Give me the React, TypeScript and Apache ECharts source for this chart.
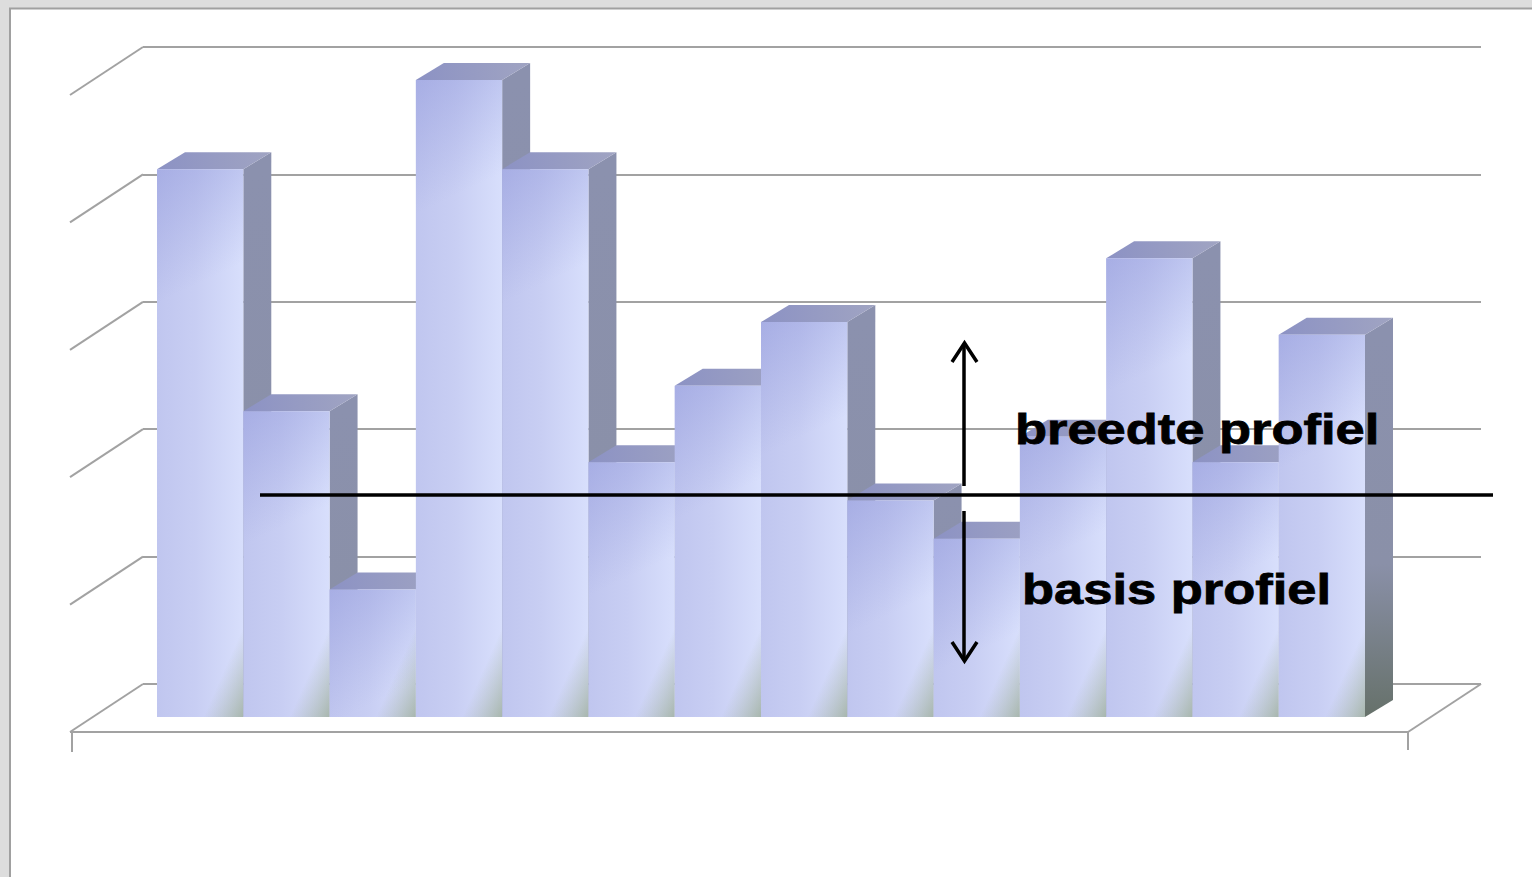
import React, { useEffect, useRef } from "react";
import * as echarts from "echarts";

// ---- data ----
const categories = ["1", "2", "3", "4", "5", "6", "7", "8", "9", "10", "11", "12", "13", "14"];
const values = [4.3, 2.4, 1.0, 5.0, 4.3, 2.0, 2.6, 3.1, 1.7, 1.4, 2.2, 3.6, 2.0, 3.0];
const wallTicks = [0, 1, 2, 3, 4, 5];
const labelTop = "breedte profiel";
const labelBottom = "basis profiel";

export default function App() {
  const ref = useRef<HTMLDivElement>(null);

  useEffect(() => {
    const chart = echarts.init(ref.current!, null, { renderer: "svg" });
    const DX = 28, DY = 17; // bar depth offset
    const WX = 73, WY = 48; // floor depth offset
    const gridColor = "#a2a2a2";

    const frameRender = (params: any, api: any) => {
      const v = api.value(1);
      const p = api.coord([0, v]);
      const children: any[] = [
        { type: "line", shape: { x1: p[0], y1: p[1], x2: p[0] - WX, y2: p[1] + WY }, style: { stroke: gridColor, lineWidth: 2 } },
      ];
      if (v === 0) {
        const q = api.coord([1, 0]);
        const fl = [p[0] - WX, p[1] + WY];
        const fr = [q[0] - WX, q[1] + WY];
        children.push(
          { type: "line", shape: { x1: fl[0], y1: fl[1], x2: fr[0], y2: fr[1] }, style: { stroke: gridColor, lineWidth: 2 } },
          { type: "line", shape: { x1: fr[0], y1: fr[1], x2: q[0], y2: q[1] }, style: { stroke: gridColor, lineWidth: 2 } },
          { type: "line", shape: { x1: fl[0] + 2, y1: fl[1], x2: fl[0] + 2, y2: fl[1] + 20 }, style: { stroke: gridColor, lineWidth: 2 } },
          { type: "line", shape: { x1: fr[0], y1: fr[1], x2: fr[0], y2: fr[1] + 18 }, style: { stroke: gridColor, lineWidth: 2 } }
        );
      }
      return { type: "group", children };
    };

    const barRender = (params: any, api: any) => {
      const i = api.value(0);
      const v = api.value(1);
      const b = api.coord([i, 0]);
      const t = api.coord([i, v]);
      const w = api.size([1, 0])[0];
      const x0 = b[0] - w / 2, x1 = b[0] + w / 2;
      const yb = b[1], yt = t[1];
      const sideGrad = new echarts.graphic.LinearGradient(0, yt, 0, yb, [
        { offset: 0, color: "#8b91ae" },
        { offset: 0.6, color: "#8a90a8" },
        { offset: 1, color: "#66716a" },
      ], true);
      const topGrad = new echarts.graphic.LinearGradient(0, 0, 1, 0, [
        { offset: 0, color: "#8c92c4" },
        { offset: 1, color: "#a0a4c2" },
      ]);
      const frontGrad = new echarts.graphic.LinearGradient(0, 0, 1, 0, [
        { offset: 0, color: "#c0c6ef" },
        { offset: 0.45, color: "#c8cef3" },
        { offset: 1, color: "#d8dffc" },
      ]);
      const shadeTL = new echarts.graphic.LinearGradient(x0, yt, x0 + w * 0.6, yt + 110, [
        { offset: 0, color: "rgba(130,138,212,0.4)" },
        { offset: 1, color: "rgba(130,138,212,0)" },
      ], true);
      // soft greenish reflection in the bottom-right corner of each front face
      const triW = 40, triH = 90;
      const len = Math.hypot(triW, triH);
      const proj = (triW * triW) / len;
      const px = x1 - triW + (triW / len) * proj;
      const py = yb - (triH / len) * proj;
      const shadeBR = new echarts.graphic.LinearGradient(px, py, x1, yb, [
        { offset: 0, color: "rgba(150,168,135,0)" },
        { offset: 1, color: "rgba(135,155,120,0.6)" },
      ], true);
      return {
        type: "group",
        children: [
          { type: "polygon", shape: { points: [[x1, yt], [x1 + DX, yt - DY], [x1 + DX, yb - DY], [x1, yb]] }, style: { fill: sideGrad } },
          { type: "polygon", shape: { points: [[x0, yt], [x0 + DX, yt - DY], [x1 + DX, yt - DY], [x1, yt]] }, style: { fill: topGrad } },
          { type: "rect", shape: { x: x0, y: yt, width: w, height: yb - yt }, style: { fill: frontGrad } },
          { type: "rect", shape: { x: x0, y: yt, width: w, height: yb - yt }, style: { fill: shadeTL } },
          {
            type: "polygon",
            shape: { points: [[x1 - triW, yb], [x1, Math.max(yt, yb - triH)], [x1, yb]] },
            style: { fill: shadeBR },
          },
        ],
      };
    };

    const font = 'bold 43px "Liberation Sans", Arial, sans-serif';
    const black = "#000000";

    chart.setOption({
      animation: false,
      backgroundColor: "#ffffff",
      grid: [
        { left: 157, top: 80, width: 1208, height: 637 },
        { left: 143, top: 47, width: 1338, height: 637 },
      ],
      xAxis: [
        { gridIndex: 0, type: "category", data: categories, show: false },
        { gridIndex: 1, type: "value", min: 0, max: 1, show: false },
      ],
      yAxis: [
        { gridIndex: 0, type: "value", min: 0, max: 5, interval: 1, show: false },
        {
          gridIndex: 1, type: "value", min: 0, max: 5, interval: 1,
          axisLine: { show: false }, axisTick: { show: false }, axisLabel: { show: false },
          splitLine: { show: true, lineStyle: { color: gridColor, width: 2 } },
        },
      ],
      series: [
        {
          type: "custom", xAxisIndex: 1, yAxisIndex: 1, clip: false,
          data: wallTicks.map((v) => [0, v]),
          renderItem: frameRender,
          silent: true,
        },
        {
          type: "custom", xAxisIndex: 0, yAxisIndex: 0, clip: false,
          data: values.map((v, i) => [i, v]),
          renderItem: barRender,
        },
      ],
      graphic: [
        { type: "rect", shape: { x: 0, y: 0, width: 1532, height: 8 }, style: { fill: "#dddddd" }, silent: true },
        { type: "rect", shape: { x: 0, y: 0, width: 9, height: 877 }, style: { fill: "#dddddd" }, silent: true },
        { type: "line", shape: { x1: 9, y1: 8.5, x2: 1532, y2: 8.5 }, style: { stroke: "#a0a0a0", lineWidth: 2 } },
        { type: "line", shape: { x1: 10, y1: 8, x2: 10, y2: 877 }, style: { stroke: "#a0a0a0", lineWidth: 2 } },
        { type: "line", z: 100, shape: { x1: 260, y1: 495, x2: 1493, y2: 495 }, style: { stroke: black, lineWidth: 3.5 } },
        { type: "line", z: 100, shape: { x1: 964, y1: 486, x2: 964, y2: 344 }, style: { stroke: black, lineWidth: 3.5 } },
        { type: "polyline", z: 100, shape: { points: [[952, 362], [964.5, 343], [977, 362]] }, style: { stroke: black, lineWidth: 3.5, fill: "none" } },
        { type: "line", z: 100, shape: { x1: 964, y1: 511, x2: 964, y2: 660 }, style: { stroke: black, lineWidth: 3.5 } },
        { type: "polyline", z: 100, shape: { points: [[952, 642], [964.5, 661], [977, 642]] }, style: { stroke: black, lineWidth: 3.5, fill: "none" } },
        {
          type: "text", z: 100, x: 1015, y: 429, scaleX: 1.22,
          style: { text: labelTop, x: 0, y: 0, font, fill: black, stroke: black, lineWidth: 0.8, align: "left", verticalAlign: "middle" },
        },
        {
          type: "text", z: 100, x: 1022, y: 589, scaleX: 1.22,
          style: { text: labelBottom, x: 0, y: 0, font, fill: black, stroke: black, lineWidth: 0.8, align: "left", verticalAlign: "middle" },
        },
      ],
    });
    return () => chart.dispose();
  }, []);

  return <div ref={ref} style={{ position: "absolute", left: 0, top: 0, width: 1532, height: 877 }} />;
}
